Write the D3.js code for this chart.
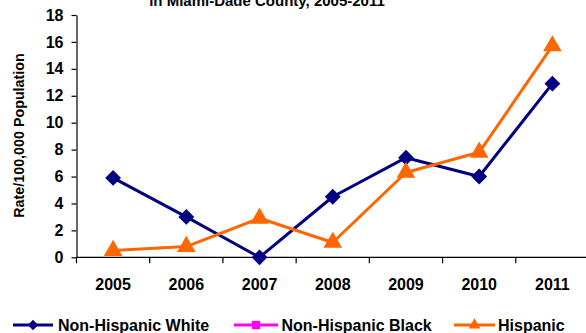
<!DOCTYPE html>
<html>
<head>
<meta charset="utf-8">
<script src="https://cdn.jsdelivr.net/npm/d3@7"></script>
<style>
  html, body { margin: 0; padding: 0; background: #fff; }
  svg { display: block; font-family: "Liberation Sans", Arial, sans-serif; }
</style>
</head>
<body>
<svg id="chart" width="586" height="333"></svg>
<script>
// Rates per 100,000 population by year and group
const years = ["2005", "2006", "2007", "2008", "2009", "2010", "2011"];
const whiteRates = [5.9, 3.0, 0.0, 4.5, 7.4, 6.0, 12.9];
const blackRates = [null, null, null, null, null, null, null];
const hispanicRates = [0.5, 0.8, 2.9, 1.1, 6.3, 7.8, 15.7];
const yTicks = [0, 2, 4, 6, 8, 10, 12, 14, 16, 18];

const seriesNames = ["Non-Hispanic White", "Non-Hispanic Black", "Hispanic"];
const seriesColors = ["#000080", "#FF00FF", "#FF6600"];
const seriesSymbols = [d3.symbolDiamond2, d3.symbolSquare, d3.symbolTriangle];

const series = [
  { name: seriesNames[0], values: whiteRates, color: seriesColors[0], symbol: seriesSymbols[0] },
  { name: seriesNames[1], values: blackRates, color: seriesColors[1], symbol: seriesSymbols[1] },
  { name: seriesNames[2], values: hispanicRates, color: seriesColors[2], symbol: seriesSymbols[2] }
];

const svg = d3.select("#chart");

const x = d3.scaleBand().domain(years).range([76.5, 589]);
const y = d3.scaleLinear().domain([0, 18]).range([257.3, 15]);

// Title (second line of a two-line heading)
svg.append("text")
  .attr("x", 267).attr("y", 6)
  .attr("text-anchor", "middle")
  .attr("font-size", 15).attr("font-weight", "bold")
  .text("in Miami-Dade County, 2005-2011");

// Y axis
const yAxis = svg.append("g")
  .attr("transform", "translate(76.5,0)")
  .call(d3.axisLeft(y).tickValues(yTicks).tickSize(5).tickPadding(8).tickSizeOuter(0));
yAxis.select(".domain").attr("stroke", "#000").attr("stroke-width", 1.2);
yAxis.selectAll(".tick line").attr("stroke", "#000").attr("stroke-width", 1.2);
yAxis.selectAll(".tick text")
  .attr("font-size", 16).attr("font-weight", "bold").attr("fill", "#000")
  .attr("font-family", "Liberation Sans, Arial, sans-serif");

// X axis
const bandEdges = years.map(d => x(d)).concat([x.range()[1]]);
const xAxisG = svg.append("g").attr("transform", `translate(0,${y(0)})`);
xAxisG.append("line")
  .attr("x1", 76.5).attr("x2", 589)
  .attr("stroke", "#000").attr("stroke-width", 1.2);
xAxisG.selectAll("line.tk").data(bandEdges).join("line")
  .attr("class", "tk")
  .attr("x1", d => d).attr("x2", d => d)
  .attr("y1", 0).attr("y2", 6)
  .attr("stroke", "#000").attr("stroke-width", 1.2);
xAxisG.selectAll("text").data(years).join("text")
  .attr("x", d => x(d) + x.bandwidth() / 2)
  .attr("y", 33)
  .attr("text-anchor", "middle")
  .attr("font-size", 16).attr("font-weight", "bold")
  .text(d => d);

// Y axis title
svg.append("text")
  .attr("transform", "translate(23.5,135.5) rotate(-90)")
  .attr("text-anchor", "middle")
  .attr("font-size", 14.3).attr("font-weight", "bold")
  .text("Rate/100,000 Population");

// Lines and markers
const cx = d => x(d) + x.bandwidth() / 2;
const line = d3.line()
  .defined(d => d.v != null)
  .x(d => cx(d.year))
  .y(d => y(d.v));

series.forEach(s => {
  const pts = years.map((yr, i) => ({ year: yr, v: s.values[i] }));
  svg.append("path")
    .datum(pts)
    .attr("fill", "none")
    .attr("stroke", s.color)
    .attr("stroke-width", 3)
    .attr("stroke-linejoin", "round")
    .attr("d", line);
  const sym = d3.symbol().type(s.symbol).size(s.symbol === d3.symbolTriangle ? 150 : 160);
  svg.selectAll(null)
    .data(pts.filter(p => p.v != null))
    .join("path")
    .attr("transform", p => `translate(${cx(p.year)},${y(p.v)})`)
    .attr("fill", s.color)
    .attr("d", sym());
});

// Legend
const legendItems = [
  { x0: 13, x1: 53, tx: 58 },
  { x0: 234, x1: 278, tx: 281.5 },
  { x0: 454, x1: 495, tx: 498 }
];
const ly = 325;
series.forEach((s, i) => {
  const L = legendItems[i];
  const g = svg.append("g");
  g.append("line")
    .attr("x1", L.x0).attr("x2", L.x1).attr("y1", ly).attr("y2", ly)
    .attr("stroke", s.color).attr("stroke-width", 3);
  g.append("path")
    .attr("transform", `translate(${(L.x0 + L.x1) / 2},${ly})`)
    .attr("fill", s.color)
    .attr("d", d3.symbol().type(s.symbol).size(s.symbol === d3.symbolTriangle ? 60 : 70)());
  g.append("text")
    .attr("x", L.tx).attr("y", ly + 6)
    .attr("font-size", 16).attr("font-weight", "bold")
    .text(s.name);
});
</script>
</body>
</html>
